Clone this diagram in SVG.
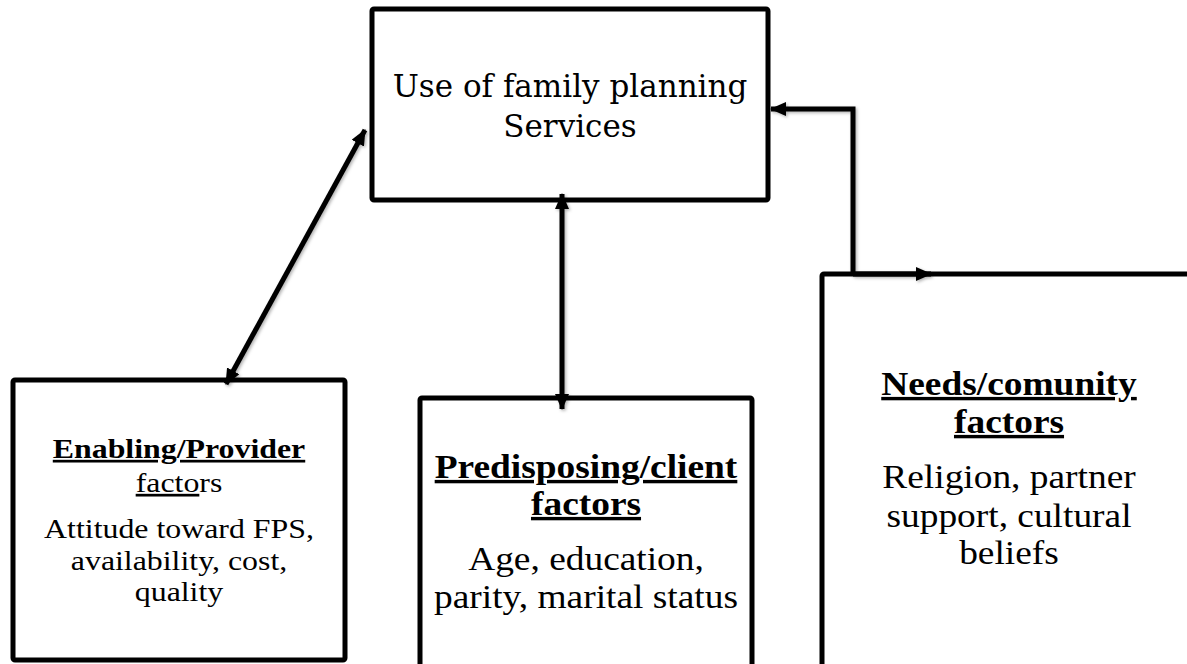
<svg xmlns="http://www.w3.org/2000/svg" width="1187" height="664" viewBox="0 0 1187 664">
<style>
.box{fill:#fff;stroke:#000;stroke-width:5;stroke-linejoin:round}
.ln{fill:none;stroke:#000;stroke-width:5;stroke-linejoin:miter}
.t{font-family:"Liberation Serif","Times New Roman",serif;fill:#000;text-anchor:middle}
.c{font-family:"DejaVu Serif","Liberation Serif",serif;fill:#000;text-anchor:middle}
.b{font-weight:bold}
.u{text-decoration:underline}
</style>
<defs>
<marker id="ah" viewBox="0 0 16 14" refX="15" refY="7" markerWidth="16" markerHeight="14" markerUnits="userSpaceOnUse" orient="auto-start-reverse">
<path d="M0,0 L16,7 L0,14 Z" fill="#000"/>
</marker>
<filter id="sh" x="-10%" y="-10%" width="120%" height="120%">
<feDropShadow dx="1.5" dy="1.5" stdDeviation="1.5" flood-color="#000" flood-opacity="0.3"/>
</filter>
</defs>
<g id="top">
<rect class="box" x="372" y="9" width="396" height="191" rx="2"/>
<text class="c" x="570" y="97" font-size="31">Use of family planning</text>
<text class="c" x="570" y="137" font-size="31">Services</text>
</g>
<g id="enabling">
<rect class="box" x="13" y="380" width="332" height="280" rx="2"/>
<g transform="translate(179,0) scale(1.18,1)">
<text class="t b" x="0" y="458" font-size="27"><tspan class="u">Enabling/Provider</tspan></text>
<text class="t" x="0" y="492" font-size="27"><tspan class="u">facto</tspan>rs</text>
<text class="t" x="0" y="538" font-size="27">Attitude toward FPS,</text>
<text class="t" x="0" y="570" font-size="27">availability, cost,</text>
<text class="t" x="0" y="601" font-size="27">quality</text>
</g>
</g>
<g id="predisposing">
<rect class="box" x="420" y="398" width="332" height="300" rx="2"/>
<g transform="translate(586,0) scale(1.1,1)">
<text class="t b" x="0" y="478" font-size="34"><tspan class="u">Predisposing/client</tspan></text>
<text class="t b" x="0" y="515" font-size="34"><tspan class="u">factors</tspan></text>
<text class="t" x="0" y="570" font-size="34">Age, education,</text>
<text class="t" x="0" y="608" font-size="34">parity, marital status</text>
</g>
</g>
<g id="needs">
<rect class="box" x="822" y="274" width="420" height="430" rx="2"/>
<g transform="translate(1009,0) scale(1.1,1)">
<text class="t b" x="0" y="395" font-size="34"><tspan class="u">Needs/comunity</tspan></text>
<text class="t b" x="0" y="433" font-size="34"><tspan class="u">factors</tspan></text>
<text class="t" x="0" y="488" font-size="34">Religion, partner</text>
<text class="t" x="0" y="527" font-size="34">support, cultural</text>
<text class="t" x="0" y="564" font-size="34">beliefs</text>
</g>
</g>
<g id="connectors" filter="url(#sh)">
<path class="ln" d="M226,384 L365,130" marker-start="url(#ah)" marker-end="url(#ah)"/>
<path class="ln" d="M562,194 L562,409" marker-start="url(#ah)" marker-end="url(#ah)"/>
<path class="ln" d="M853,275 V109 H771" marker-end="url(#ah)"/>
<path class="ln" d="M853,274 H931" marker-end="url(#ah)"/>
</g>
</svg>
